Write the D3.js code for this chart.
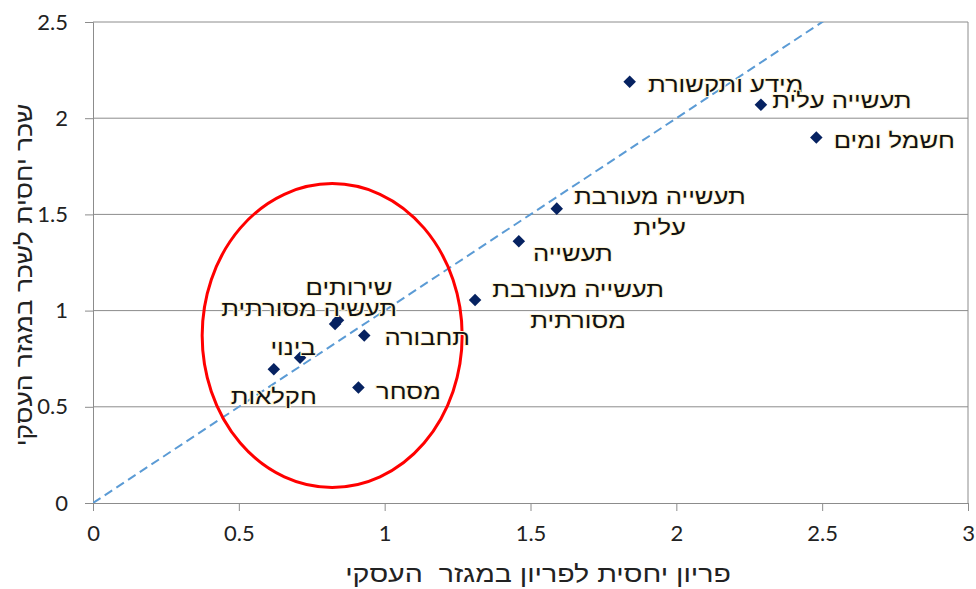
<!DOCTYPE html>
<html>
<head>
<meta charset="utf-8">
<script src="https://cdn.jsdelivr.net/npm/d3@7"></script>
<style>
  body { margin: 0; background: #fff; }
  svg { display: block; }
</style>
</head>
<body>
<svg id="chart" width="976" height="589"></svg>
<script>
// sectors, x = relative productivity, y = relative wage
const sectors = ["מידע ותקשורת", "תעשייה עלית", "חשמל ומים", "תעשייה מעורבת עלית", "תעשייה",
  "תעשייה מעורבת מסורתית", "שירותים", "תעשיה מסורתית", "תחבורה", "בינוי", "חקלאות", "מסחר"];
const productivity = [1.84, 2.29, 2.48, 1.59, 1.46, 1.31, 0.84, 0.83, 0.93, 0.71, 0.62, 0.91];
const wage = [2.19, 2.07, 1.90, 1.53, 1.36, 1.055, 0.95, 0.93, 0.87, 0.755, 0.695, 0.60];
const xTicks = [0, 0.5, 1, 1.5, 2, 2.5, 3];
const yTicks = [0, 0.5, 1, 1.5, 2, 2.5];

// label placement (pixels from the marker), lines split as in the original
const labelLayout = {
  "מידע ותקשורת": {dx: 96, dy: 3, lines: ["מידע ותקשורת"]},
  "תעשייה עלית": {dx: 81, dy: -4, lines: ["תעשייה עלית"]},
  "חשמל ומים": {dx: 78, dy: 3, lines: ["חשמל ומים"]},
  "תעשייה מעורבת עלית": {dx: 103, dy: -12, lines: ["תעשייה מעורבת", "עלית"]},
  "תעשייה": {dx: 54, dy: 12, lines: ["תעשייה"]},
  "תעשייה מעורבת מסורתית": {dx: 103, dy: -10, lines: ["תעשייה מעורבת", "מסורתית"]},
  "שירותים": {dx: 11, dy: -32, lines: ["שירותים"]},
  "תעשיה מסורתית": {dx: -26, dy: -15, lines: ["תעשיה מסורתית"]},
  "תחבורה": {dx: 63, dy: 2, lines: ["תחבורה"]},
  "בינוי": {dx: -7, dy: -10, lines: ["בינוי"]},
  "חקלאות": {dx: 0, dy: 28, lines: ["חקלאות"]},
  "מסחר": {dx: 50, dy: 4, lines: ["מסחר"]}
};

const data = sectors.map((s, i) => ({name: s, x: productivity[i], y: wage[i]}));

const svg = d3.select("#chart");
const plotLeft = 93, plotRight = 968, plotTop = 22, plotBottom = 503;

const x = d3.scaleLinear().domain([0, 3]).range([plotLeft, plotRight]);
const y = d3.scaleLinear().domain([0, 2.5]).range([plotBottom, plotTop]);

const gridColor = "#8c8c8c";
const tickFont = "Lato, 'Liberation Sans', Arial, sans-serif";
const hebFont = "'Liberation Sans', Arial, sans-serif";
const labelStretch = 1.22;   // the original hebrew face is wider than Arial here
const titleStretch = 1.19;

// horizontal gridlines
svg.append("g")
  .selectAll("line")
  .data(yTicks.filter(d => d > 0))
  .join("line")
    .attr("x1", plotLeft).attr("x2", plotRight)
    .attr("y1", d => y(d)).attr("y2", d => y(d))
    .attr("stroke", gridColor).attr("stroke-width", 1);

// right border of plot area
svg.append("line")
  .attr("x1", plotRight).attr("x2", plotRight)
  .attr("y1", plotTop).attr("y2", plotBottom)
  .attr("stroke", gridColor);

// axes
const xAxis = svg.append("g")
  .attr("transform", `translate(0,${plotBottom})`)
  .call(d3.axisBottom(x).tickValues(xTicks).tickFormat(d3.format("")).tickSize(8).tickPadding(14));
const yAxis = svg.append("g")
  .attr("transform", `translate(${plotLeft},0)`)
  .call(d3.axisLeft(y).tickValues(yTicks).tickFormat(d3.format("")).tickSize(8).tickPadding(17));

[xAxis, yAxis].forEach(g => {
  g.select(".domain").attr("stroke", gridColor);
  g.selectAll(".tick line").attr("stroke", gridColor);
  g.selectAll(".tick text")
    .attr("font-family", tickFont)
    .attr("font-size", 22)
    .attr("fill", "#222");
});

// 45 degree reference line, clipped to the plot area
svg.append("clipPath").attr("id", "plotClip")
  .append("rect").attr("x", plotLeft).attr("y", plotTop)
  .attr("width", plotRight - plotLeft).attr("height", plotBottom - plotTop);

svg.append("line")
  .attr("clip-path", "url(#plotClip)")
  .attr("x1", x(0)).attr("y1", y(0))
  .attr("x2", x(3)).attr("y2", y(3))
  .attr("stroke", "#5b9bd5")
  .attr("stroke-width", 2)
  .attr("stroke-dasharray", "9,5");

// red ellipse
svg.append("ellipse")
  .attr("cx", x(0.82)).attr("cy", y(0.87))
  .attr("rx", 130).attr("ry", 152)
  .attr("fill", "none")
  .attr("stroke", "#ff0000")
  .attr("stroke-width", 3);

// markers
const diamond = d3.symbol().type(d3.symbolDiamond2).size(100);
svg.append("g")
  .selectAll("path")
  .data(data)
  .join("path")
    .attr("transform", d => `translate(${x(d.x)},${y(d.y)})`)
    .attr("d", diamond)
    .attr("fill", "#062261");

// labels
const labels = svg.append("g")
  .attr("font-family", hebFont)
  .attr("font-size", 21)
  .attr("fill", "#111")
  .attr("text-anchor", "middle");

data.forEach(d => {
  const l = labelLayout[d.name];
  l.lines.forEach((t, k) => {
    labels.append("text")
      .attr("transform", `translate(${x(d.x) + l.dx},${y(d.y) + l.dy + k * 31}) scale(${labelStretch},1)`)
      .attr("dominant-baseline", "central")
      .attr("direction", "rtl")
      .attr("stroke", "#fff6d8")
      .attr("stroke-width", 2)
      .attr("paint-order", "stroke")
      .text(t);
  });
});

// axis titles
svg.append("text")
  .attr("transform", `translate(538,582) scale(${titleStretch},1)`)
  .attr("text-anchor", "middle")
  .attr("direction", "rtl")
  .attr("font-family", hebFont)
  .attr("font-size", 24)
  .attr("fill", "#222")
  .attr("xml:space", "preserve")
  .text("פריון יחסית לפריון במגזר  העסקי");

svg.append("text")
  .attr("transform", `translate(32,275) rotate(-90) scale(1.1,1)`)
  .attr("text-anchor", "middle")
  .attr("direction", "rtl")
  .attr("font-family", hebFont)
  .attr("font-size", 24)
  .attr("fill", "#222")
  .text("שכר יחסית לשכר במגזר העסקי");
</script>
</body>
</html>
